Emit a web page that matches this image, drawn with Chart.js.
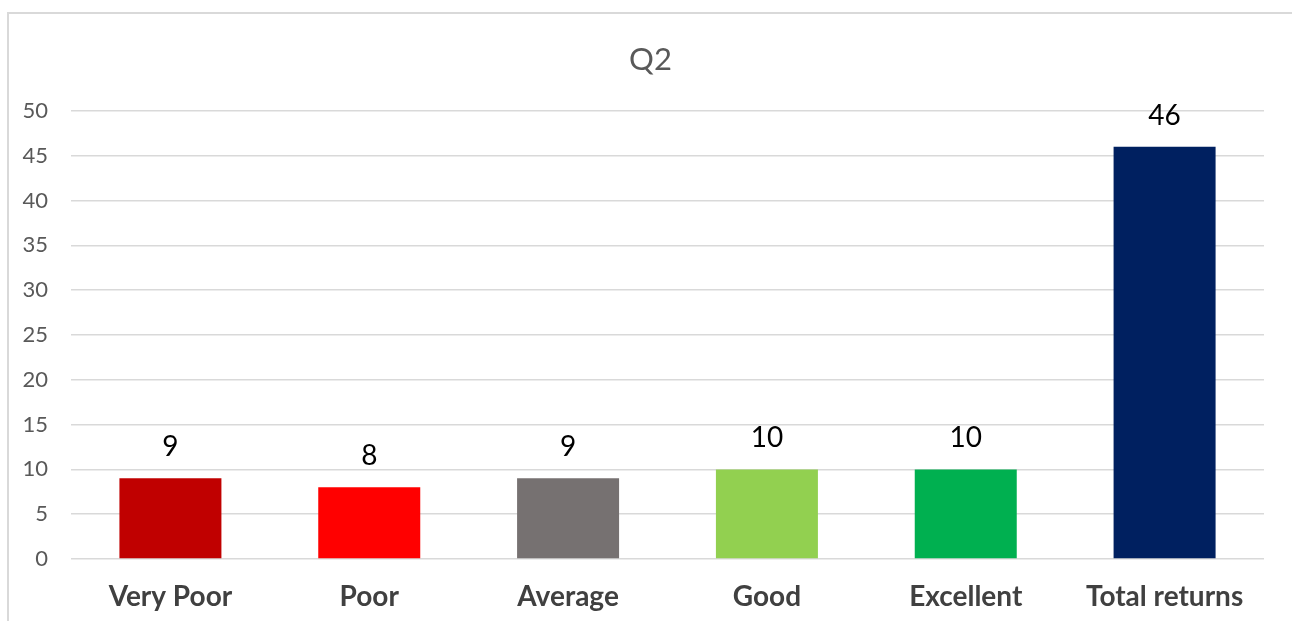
<!DOCTYPE html>
<html>
<head>
<meta charset="utf-8">
<script src="https://cdn.jsdelivr.net/npm/chart.js@4"></script>
<style>
  html, body { margin: 0; padding: 0; background: #fff; overflow: hidden; }
  #wrap { position: relative; width: 1292px; height: 621px; }
  #frame { position: absolute; left: 7px; top: 12px; width: 1400px; height: 700px; border: 2px solid #d9d9d9; box-sizing: border-box; }
  canvas { position: absolute; left: 0; top: 0; }
</style>
</head>
<body>
<div id="wrap">
  <div id="frame"></div>
  <canvas id="c" width="1292" height="621"></canvas>
</div>
<script>
const categories = ["Very Poor", "Poor", "Average", "Good", "Excellent", "Total returns"];
const values = [9, 8, 9, 10, 10, 46];
const barColors = ["#C00000", "#FF0000", "#767171", "#92D050", "#00B050", "#002060"];
const chartTitle = "Q2";

const FONT = "Lato, 'Open Sans', 'DejaVu Sans', sans-serif";

const dataLabels = {
  id: 'dataLabels',
  afterDatasetsDraw(chart) {
    const ctx = chart.ctx;
    const meta = chart.getDatasetMeta(0);
    ctx.save();
    ctx.font = "28px " + FONT;
    ctx.fillStyle = "#000000";
    ctx.textAlign = "center";
    ctx.textBaseline = "middle";
    meta.data.forEach((bar, i) => {
      ctx.fillText(String(values[i]), bar.x, bar.y - 31);
    });
    ctx.restore();
  }
};

// Title centred on the outer chart frame (not the plot box)
const frameTitle = {
  id: 'frameTitle',
  afterDraw(chart) {
    const ctx = chart.ctx;
    ctx.save();
    ctx.font = "31px " + FONT;
    ctx.fillStyle = "#595959";
    ctx.textAlign = "center";
    ctx.textBaseline = "middle";
    ctx.fillText(chartTitle, (7 + chart.width) / 2 + 1, 60);
    ctx.restore();
  }
};

new Chart(document.getElementById('c'), {
  type: 'bar',
  data: {
    labels: categories,
    datasets: [{
      data: values,
      backgroundColor: barColors,
      borderWidth: 0,
      barPercentage: 0.513,
      categoryPercentage: 1.0
    }]
  },
  options: {
    responsive: false,
    animation: false,
    devicePixelRatio: 1,
    layout: { padding: { left: 0, right: 28, top: 111, bottom: 0 } },
    plugins: {
      legend: { display: false },
      tooltip: { enabled: false },
      title: { display: false }
    },
    scales: {
      x: {
        grid: { display: false, drawTicks: false },
        border: { display: false },
        ticks: {
          color: "#404040",
          font: { family: FONT, size: 28, weight: 'bold' },
          padding: 21,
          maxRotation: 0
        },
        afterFit(scale) { scale.height = 62; }
      },
      y: {
        min: 0,
        max: 50,
        ticks: {
          stepSize: 5,
          color: "#595959",
          font: { family: FONT, size: 22 },
          padding: 23
        },
        grid: { color: "#d9d9d9", lineWidth: 1.5, drawTicks: false },
        border: { display: false },
        afterFit(scale) { scale.width = 71; }
      }
    }
  },
  plugins: [dataLabels, frameTitle]
});
</script>
</body>
</html>
